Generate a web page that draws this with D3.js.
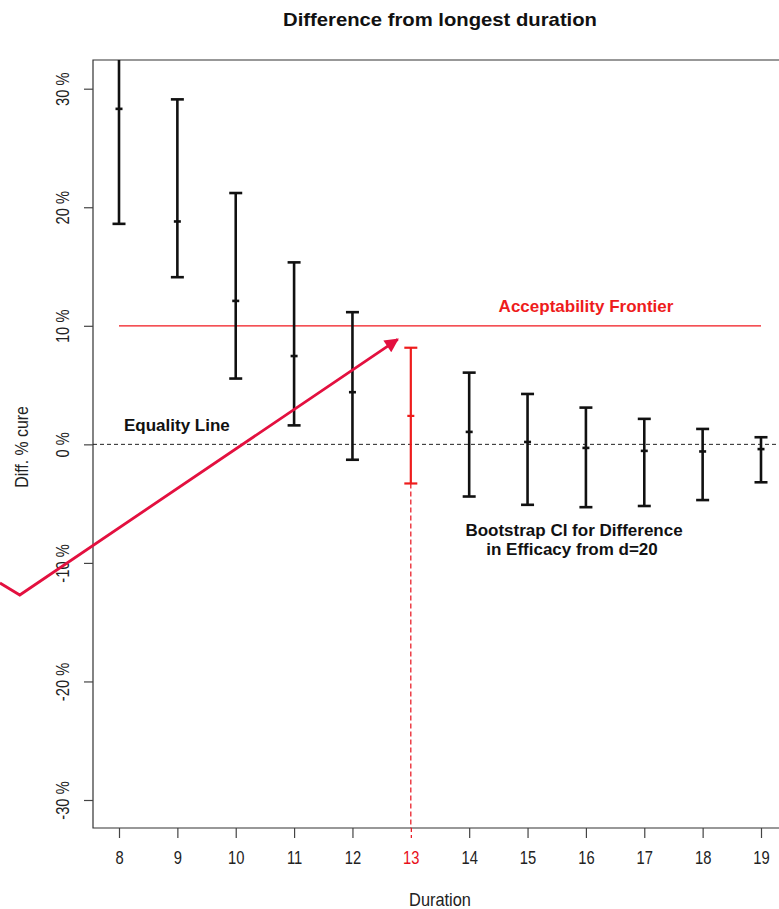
<!DOCTYPE html>
<html>
<head>
<meta charset="utf-8">
<script src="https://cdn.jsdelivr.net/npm/d3@7"></script>
<style>
  html, body { margin: 0; padding: 0; background: #fff; }
  svg { display: block; font-family: "Liberation Sans", Arial, Helvetica, sans-serif; }
</style>
</head>
<body>
<svg id="chart" width="779" height="909"></svg>
<script>
// Bootstrap CI of the difference in % cure versus the longest duration (d = 20)
const durations = [8, 9, 10, 11, 12, 13, 14, 15, 16, 17, 18, 19];
const diffEstimate = [28.3, 18.8, 12.1, 7.45, 4.4, 2.4, 1.05, 0.2, -0.3, -0.55, -0.6, -0.4];
const ciLower = [18.6, 14.1, 5.55, 1.6, -1.3, -3.3, -4.4, -5.1, -5.3, -5.2, -4.7, -3.2];
const ciUpper = [36.0, 29.1, 21.2, 15.35, 11.15, 8.15, 6.05, 4.25, 3.1, 2.15, 1.3, 0.6];
const yTicks = [-30, -20, -10, 0, 10, 20, 30];
const xTicks = durations;
const chosenDuration = 13;
const frontier = 10;
// Annotation arrow path, in (duration, % difference) units
const arrowPath = [[5.96, -11.7], [6.30, -12.71], [12.776, 8.86]];

const svg = d3.select("#chart");
const plot = { left: 93, top: 60, right: 787, bottom: 828 };
const narrow = 0.82; // condensed axis lettering

const x = d3.scaleLinear().domain([8, 19]).range([119, 761]);
const y = d3.scaleLinear().domain([-30, 30]).range([800, 88.7]);

const defs = svg.append("defs");
defs.append("clipPath").attr("id", "plotclip")
  .append("rect")
  .attr("x", plot.left).attr("y", plot.top)
  .attr("width", plot.right - plot.left).attr("height", plot.bottom - plot.top);

// Title
svg.append("text")
  .attr("x", 440).attr("y", 26)
  .attr("text-anchor", "middle")
  .attr("font-weight", "bold").attr("font-size", 19)
  .attr("textLength", 314).attr("lengthAdjust", "spacingAndGlyphs")
  .attr("fill", "#111")
  .text("Difference from longest duration");

// Plot box
svg.append("path")
  .attr("d", `M${plot.right},${plot.top}H${plot.left}V${plot.bottom}H${plot.right}`)
  .attr("fill", "none").attr("stroke", "#333").attr("stroke-width", 1.2);

// Y axis
const yAxis = svg.append("g")
  .attr("transform", `translate(${plot.left},0)`)
  .call(d3.axisLeft(y).tickValues(yTicks).tickSize(9).tickFormat(d => `${d} %`));
yAxis.select(".domain").remove();
yAxis.selectAll(".tick line").attr("stroke", "#444").attr("stroke-width", 1.2);
yAxis.selectAll(".tick text")
  .attr("font-size", 18).attr("fill", "#222")
  .attr("font-family", "Liberation Sans, Arial, sans-serif")
  .attr("text-anchor", "middle")
  .attr("x", 0).attr("dy", 0)
  .attr("dominant-baseline", "central")
  .attr("transform", `translate(-31,0) rotate(-90) scale(${narrow},1)`);

svg.append("text")
  .attr("transform", "translate(22,447) rotate(-90) scale(0.88,1)")
  .attr("text-anchor", "middle").attr("dominant-baseline", "central")
  .attr("font-size", 18).attr("fill", "#222")
  .text("Diff. % cure");

// X axis
const xAxis = svg.append("g")
  .attr("transform", `translate(0,${plot.bottom})`)
  .call(d3.axisBottom(x).tickValues(xTicks).tickSize(10).tickPadding(13).tickFormat(d3.format("d")));
xAxis.select(".domain").remove();
xAxis.selectAll(".tick line")
  .attr("stroke", d => d === chosenDuration ? "#e8101a" : "#444")
  .attr("stroke-width", 1.2)
  .attr("stroke-dasharray", d => d === chosenDuration ? "4,3" : null);
xAxis.selectAll(".tick text")
  .attr("font-size", 18)
  .attr("fill", d => d === chosenDuration ? "#e8101a" : "#222")
  .attr("font-family", "Liberation Sans, Arial, sans-serif")
  .attr("transform", `scale(${narrow},1)`);

svg.append("text")
  .attr("transform", "translate(440,906) scale(0.91,1)")
  .attr("text-anchor", "middle")
  .attr("font-size", 18).attr("fill", "#222")
  .text("Duration");

const g = svg.append("g").attr("clip-path", "url(#plotclip)");

// Equality line
g.append("line")
  .attr("x1", plot.left).attr("x2", plot.right)
  .attr("y1", y(0)).attr("y2", y(0))
  .attr("stroke", "#222").attr("stroke-width", 1)
  .attr("stroke-dasharray", "4,3");

// Acceptability frontier
g.append("line")
  .attr("x1", x(8)).attr("x2", x(19))
  .attr("y1", y(frontier)).attr("y2", y(frontier))
  .attr("stroke", "#f0161c").attr("stroke-width", 1.3);

// Dashed drop line at the chosen duration
const ci = durations.map((d, i) => ({ d, est: diffEstimate[i], lo: ciLower[i], hi: ciUpper[i] }));
const chosen = ci.find(c => c.d === chosenDuration);
g.append("line")
  .attr("x1", x(chosenDuration)).attr("x2", x(chosenDuration))
  .attr("y1", y(chosen.lo)).attr("y2", plot.bottom)
  .attr("stroke", "#e8101a").attr("stroke-width", 1.2)
  .attr("stroke-dasharray", "5,3");

// Error bars
const capW = 6.5, midW = 3.5;
const bars = g.selectAll(".ci").data(ci).join("g")
  .attr("class", "ci")
  .attr("stroke", c => c.d === chosenDuration ? "#ee1c1c" : "#111")
  .attr("stroke-width", c => c.d === chosenDuration ? 2.2 : 2.6)
  .attr("fill", "none");
bars.append("line")
  .attr("x1", c => x(c.d)).attr("x2", c => x(c.d))
  .attr("y1", c => y(c.lo)).attr("y2", c => y(c.hi));
bars.append("line")
  .attr("x1", c => x(c.d) - capW).attr("x2", c => x(c.d) + capW)
  .attr("y1", c => y(c.lo)).attr("y2", c => y(c.lo));
bars.append("line")
  .attr("x1", c => x(c.d) - capW).attr("x2", c => x(c.d) + capW)
  .attr("y1", c => y(c.hi)).attr("y2", c => y(c.hi));
bars.append("line")
  .attr("x1", c => x(c.d) - midW).attr("x2", c => x(c.d) + midW)
  .attr("y1", c => y(c.est)).attr("y2", c => y(c.est));

// Annotations
svg.append("text")
  .attr("x", 586).attr("y", 312)
  .attr("text-anchor", "middle")
  .attr("font-weight", "bold").attr("font-size", 17)
  .attr("fill", "#ee1c1c")
  .text("Acceptability Frontier");

svg.append("text")
  .attr("x", 124).attr("y", 431)
  .attr("font-weight", "bold").attr("font-size", 17)
  .attr("fill", "#111")
  .text("Equality Line");

svg.append("text")
  .attr("x", 574).attr("y", 536)
  .attr("text-anchor", "middle")
  .attr("font-weight", "bold").attr("font-size", 17)
  .attr("fill", "#111")
  .text("Bootstrap CI for Difference");
svg.append("text")
  .attr("x", 572).attr("y", 555)
  .attr("text-anchor", "middle")
  .attr("font-weight", "bold").attr("font-size", 17)
  .attr("fill", "#111")
  .text("in Efficacy from d=20");

// Callout arrow
defs.append("marker")
  .attr("id", "arrowhead")
  .attr("viewBox", "0 0 10 10")
  .attr("refX", 9).attr("refY", 5)
  .attr("markerUnits", "userSpaceOnUse")
  .attr("markerWidth", 17).attr("markerHeight", 14)
  .attr("orient", "auto")
  .append("path")
  .attr("d", "M0,0L10,5L0,10Z")
  .attr("fill", "#e3103f");

svg.append("path")
  .datum(arrowPath)
  .attr("d", d3.line().x(p => x(p[0])).y(p => y(p[1])))
  .attr("fill", "none")
  .attr("stroke", "#e3103f").attr("stroke-width", 2.8)
  .attr("stroke-linejoin", "miter")
  .attr("marker-end", "url(#arrowhead)");
</script>
</body>
</html>
